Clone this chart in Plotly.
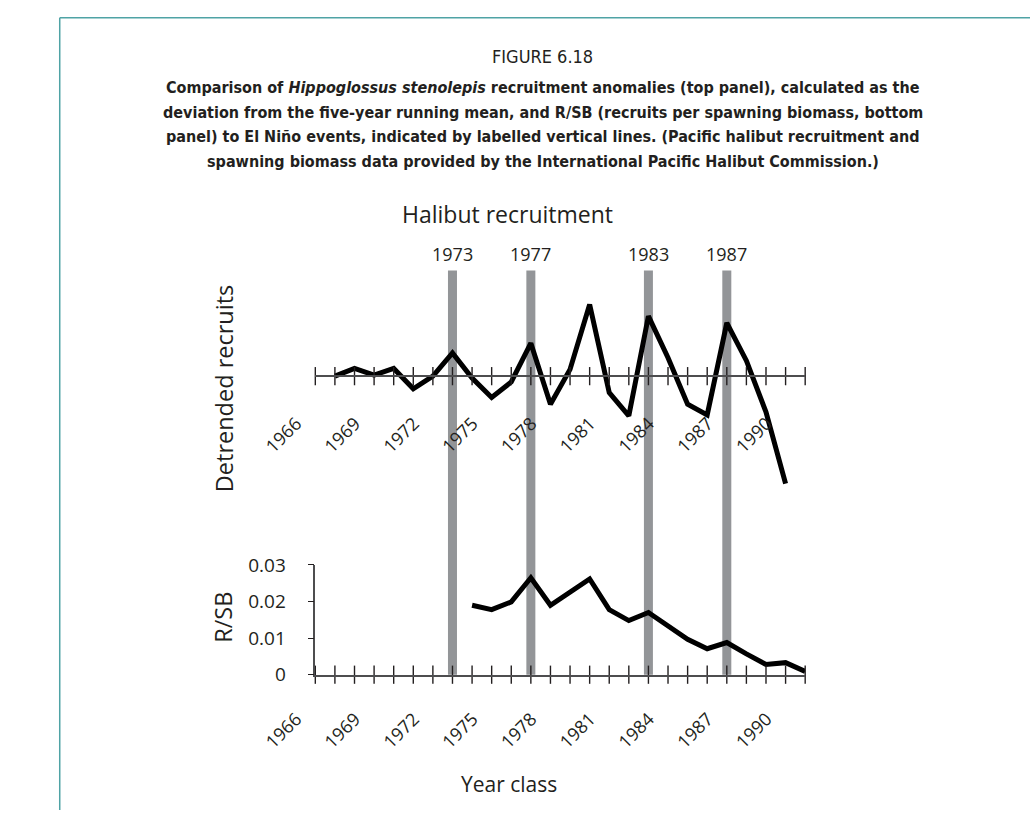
import plotly.graph_objects as go

# ---- data -------------------------------------------------------------
years_top = list(range(1967, 1991))
detrended = [0, 8, 1, 8, -13, 0, 24, -2, -22, -6, 34, -29, 7, 74,
             -17, -41, 62, 19, -29, -40, 55, 16, -37, -111]

years_bottom = list(range(1974, 1992))
rsb = [0.0190, 0.0178, 0.0199, 0.0265, 0.0190, 0.0225, 0.0262, 0.0178,
       0.0148, 0.0170, 0.0132, 0.0097, 0.0071, 0.0088, 0.0057, 0.0028,
       0.0033, 0.0009]

el_nino = [1973, 1977, 1983, 1987]

label_years = list(range(1966, 1991, 3))
label_text = [str(y) for y in label_years]
tick_years = list(range(1966, 1992))

rsb_tickvals = [0, 0.01, 0.02, 0.03]
rsb_ticktext = ["0", "0.01", "0.02", "0.03"]

caption_lines = [
    "<b>Comparison of <i>Hippoglossus stenolepis</i> recruitment anomalies (top panel), calculated as the</b>",
    "<b>deviation from the five-year running mean, and R/SB (recruits per spawning biomass, bottom</b>",
    "<b>panel) to El Niño events, indicated by labelled vertical lines. (Pacific halibut recruitment and</b>",
    "<b>spawning biomass data provided by the International Pacific Halibut Commission.)</b>",
]

# ---- layout helpers ---------------------------------------------------
W, H = 1030, 823


def fx(px):
    return px / W


def fy(py):
    return 1 - py / H


INK = "#231f20"
AXIS = "#4d4d4f"
BAR = "#939598"
FONT = "Open Sans, Noto Sans, DejaVu Sans, sans-serif"
NARROW = "DejaVu Sans Condensed, Open Sans, sans-serif"

x_dom = [fx(275), fx(792.5)]
x_rng = [1966, 1991]

top_dom = [fy(500), fy(260)]
top_rng = [-125, 115]
# paper position of the zero line in the upper panel
zero_pos = top_dom[0] + (0 - top_rng[0]) / (top_rng[1] - top_rng[0]) * (top_dom[1] - top_dom[0])

bot_dom = [fy(683.3), fy(570)]
bot_rng = [0, 0.03]

fig = go.Figure()

# upper panel: detrended recruits
fig.add_trace(go.Scatter(
    x=years_top, y=detrended, mode="lines",
    line=dict(color="black", width=5),
    xaxis="x", yaxis="y", hoverinfo="skip", showlegend=False,
))
fig.add_trace(go.Scatter(
    x=tick_years, y=[0] * len(tick_years), mode="markers",
    marker=dict(symbol="line-ns", size=13, line=dict(width=1.4, color=INK)),
    xaxis="x", yaxis="y", cliponaxis=False, hoverinfo="skip", showlegend=False,
))

# lower panel: recruits per spawning biomass
fig.add_trace(go.Scatter(
    x=years_bottom, y=rsb, mode="lines",
    line=dict(color="black", width=5),
    xaxis="x2", yaxis="y2", hoverinfo="skip", showlegend=False,
))
fig.add_trace(go.Scatter(
    x=tick_years, y=[0] * len(tick_years), mode="markers",
    marker=dict(symbol="line-ns", size=13, line=dict(width=1.4, color=INK)),
    xaxis="x2", yaxis="y2", cliponaxis=False, hoverinfo="skip", showlegend=False,
))

# El Nino bars spanning both panels, with their labels
for yr in el_nino:
    fig.add_shape(type="line", xref="x", yref="paper",
                  x0=yr, x1=yr, y0=fy(683.3), y1=fy(266),
                  line=dict(color=BAR, width=9), layer="below")
    fig.add_annotation(x=yr, xref="x", y=fy(249), yref="paper",
                       xanchor="center", yanchor="middle",
                       text=str(yr), showarrow=False,
                       font=dict(family=FONT, size=18, color=INK))

tick_font = dict(family=FONT, size=18, color=INK)

fig.update_layout(
    width=W, height=H,
    margin=dict(l=0, r=0, t=0, b=0),
    paper_bgcolor="white", plot_bgcolor="rgba(0,0,0,0)",
    xaxis=dict(domain=x_dom, range=x_rng, anchor="free", position=zero_pos,
               showline=True, linecolor=AXIS, linewidth=1.5,
               ticks="", tickmode="array", tickvals=label_years, ticktext=label_text,
               tickangle=-45, tickfont=tick_font, ticklabelstandoff=29,
               ticklabelshift=-19, showgrid=False, zeroline=False),
    yaxis=dict(domain=top_dom, range=top_rng, visible=False,
               showgrid=False, zeroline=False),
    xaxis2=dict(domain=x_dom, range=x_rng, anchor="y2",
                showline=True, linecolor=AXIS, linewidth=1.5,
                ticks="", tickmode="array", tickvals=label_years, ticktext=label_text,
                tickangle=-45, tickfont=tick_font, ticklabelstandoff=25,
                ticklabelshift=-19, showgrid=False, zeroline=False),
    yaxis2=dict(domain=bot_dom, range=bot_rng, anchor="x2",
                showline=True, linecolor=AXIS, linewidth=1.5,
                ticks="outside", ticklen=6, tickwidth=1.4, tickcolor=INK,
                tickmode="array", tickvals=rsb_tickvals, ticktext=rsb_ticktext,
                tickfont=dict(family=FONT, size=19, color=INK), ticklabelstandoff=18,
                showgrid=False, zeroline=False),
)

# panel and axis titles
titles = [
    ("Halibut recruitment", 478, 208, 0, 23),
    ("Detrended recruits", 178, 388, -90, 23.5),
    ("R/SB", 178, 624, -90, 23.5),
    ("Year class", 480, 796, 0, 21),
]
for text, px, py, ang, size in titles:
    fig.add_annotation(x=fx(px), y=fy(py), xref="paper", yref="paper",
                       xanchor="center", yanchor="middle",
                       text=text, textangle=ang, showarrow=False,
                       font=dict(family=FONT, size=size, color=INK))

# figure caption
fig.add_annotation(x=fx(515), y=fy(45), xref="paper", yref="paper",
                   xanchor="center", yanchor="middle",
                   text="FIGURE 6.18", showarrow=False,
                   font=dict(family=NARROW, size=18, color=INK))
for line, py in zip(caption_lines, [77, 102.5, 128, 153.5]):
    fig.add_annotation(x=fx(515), y=fy(py), xref="paper", yref="paper",
                       xanchor="center", yanchor="middle",
                       text=line, showarrow=False,
                       font=dict(family=NARROW, size=16, color=INK))

# teal frame along the top and left edges
fig.add_shape(type="line", xref="paper", yref="paper",
              x0=fx(5), x1=1, y0=fy(5), y1=fy(5),
              line=dict(color="#4fa3a5", width=1.5))
fig.add_shape(type="line", xref="paper", yref="paper",
              x0=fx(5), x1=fx(5), y0=fy(5), y1=0,
              line=dict(color="#4fa3a5", width=1.5))

fig.write_html("out.html")
